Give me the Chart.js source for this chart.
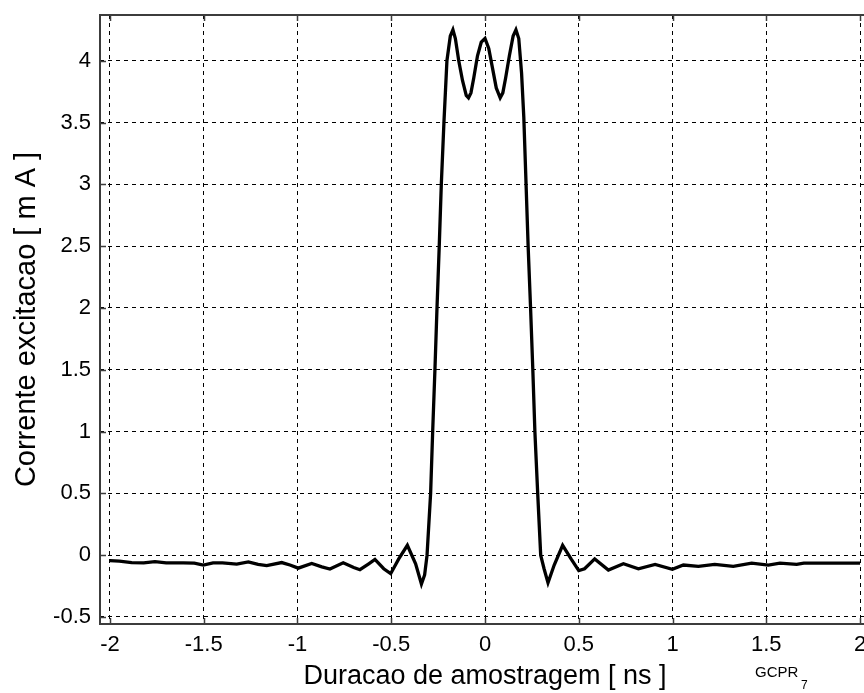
<!DOCTYPE html>
<html>
<head>
<meta charset="utf-8">
<script src="https://cdn.jsdelivr.net/npm/chart.js@4.4.1/dist/chart.umd.min.js"></script>
<style>
  html, body { margin: 0; padding: 0; background: #fff; overflow: hidden; }
  #wrap { width: 870px; height: 693px; }
</style>
</head>
<body>
<div id="wrap"><canvas id="chart" width="870" height="693"></canvas></div>
<script>
// tempo [ns] e corrente [mA]
var tempoNs = [-2.0, -1.95, -1.884, -1.82, -1.76, -1.70, -1.609, -1.55, -1.502, -1.45, -1.40,
  -1.324, -1.262, -1.21, -1.164, -1.084, -1.04, -0.996, -0.924, -0.87, -0.827, -0.756, -0.70,
  -0.667, -0.62, -0.587, -0.54, -0.503, -0.46, -0.414, -0.37, -0.339, -0.322, -0.309, -0.29,
  -0.279, -0.267, -0.256, -0.244, -0.233, -0.219, -0.203, -0.185, -0.171, -0.158, -0.14, -0.12,
  -0.10, -0.088, -0.075, -0.06, -0.04, -0.02, 0.0, 0.02, 0.04, 0.06, 0.081, 0.095, 0.11, 0.13,
  0.15, 0.165, 0.18, 0.195, 0.207, 0.219, 0.230, 0.243, 0.255, 0.266, 0.281, 0.297, 0.315,
  0.336, 0.369, 0.414, 0.459, 0.50, 0.531, 0.585, 0.658, 0.738, 0.818, 0.907, 0.999, 1.058,
  1.138, 1.225, 1.324, 1.422, 1.511, 1.573, 1.662, 1.70, 1.85, 2.0];
var correnteMa = [-0.045, -0.048, -0.06, -0.062, -0.052, -0.062, -0.063, -0.065, -0.08, -0.063, -0.063,
  -0.072, -0.055, -0.075, -0.085, -0.06, -0.08, -0.105, -0.068, -0.095, -0.112, -0.062, -0.10,
  -0.118, -0.07, -0.035, -0.11, -0.15, -0.03, 0.08, -0.07, -0.234, -0.16, 0.0, 0.5,
  1.0, 1.5, 2.0, 2.5, 3.0, 3.5, 4.0, 4.2, 4.25, 4.18, 4.0, 3.84,
  3.72, 3.70, 3.74, 3.86, 4.04, 4.15, 4.18, 4.1, 3.94, 3.78, 3.70, 3.74, 3.86, 4.04,
  4.2, 4.25, 4.18, 3.9, 3.54, 3.0, 2.5, 2.0, 1.5, 1.0, 0.5, 0.0, -0.11,
  -0.224, -0.08, 0.08, -0.03, -0.125, -0.11, -0.03, -0.12, -0.07, -0.11, -0.075, -0.115, -0.08,
  -0.09, -0.075, -0.09, -0.065, -0.08, -0.065, -0.075, -0.065, -0.065, -0.065];

var xMin = -2.053, xMax = 2.053;
var yMin = -0.557, yMax = 4.37;

var pontos = [];
for (var i = 0; i < tempoNs.length; i++) {
  pontos.push({x: tempoNs[i], y: correnteMa[i]});
}

var fonte = "'Liberation Sans', Arial, sans-serif";

// moldura + ticks para dentro (estilo matlab) + nota GCPR7
var moldura = {
  id: 'moldura',
  afterDraw: function(chart) {
    var c = chart.ctx, a = chart.chartArea;
    var sx = chart.scales.x, sy = chart.scales.y;
    c.save();
    c.strokeStyle = '#3c3c3c';
    c.lineWidth = 1.5;
    c.beginPath();
    sx.ticks.forEach(function(t) {
      var px = Math.round(sx.getPixelForValue(t.value)) + 0.5;
      c.moveTo(px, a.bottom); c.lineTo(px, a.bottom - 6);
      c.moveTo(px, a.top); c.lineTo(px, a.top + 6);
    });
    sy.ticks.forEach(function(t) {
      var py = Math.round(sy.getPixelForValue(t.value)) + 0.5;
      c.moveTo(a.left, py); c.lineTo(a.left + 6, py);
    });
    c.stroke();
    c.lineWidth = 2;
    c.beginPath();
    c.moveTo(a.right, a.top); c.lineTo(a.left, a.top);
    c.lineTo(a.left, a.bottom); c.lineTo(a.right, a.bottom);
    c.stroke();
    c.fillStyle = '#000';
    c.textBaseline = 'alphabetic';
    c.font = '15px ' + fonte;
    c.fillText('GCPR', 755, 677);
    c.font = '12px ' + fonte;
    c.fillText('7', 801, 689);
    c.restore();
  }
};

const ctx = document.getElementById('chart').getContext('2d');
const chart = new Chart(ctx, {
  type: 'line',
  data: {
    datasets: [{
      data: pontos,
      borderColor: '#000',
      borderWidth: 3.3,
      pointRadius: 0,
      tension: 0,
      fill: false
    }]
  },
  options: {
    responsive: false,
    animation: false,
    devicePixelRatio: 1,
    layout: { padding: { top: 15, left: 0, right: 0, bottom: 0 } },
    plugins: { legend: { display: false }, tooltip: { enabled: false } },
    scales: {
      x: {
        type: 'linear',
        min: xMin, max: xMax,
        afterFit: function(s) { s.height = 69; s.paddingLeft = 0; s.paddingRight = 0; },
        ticks: { stepSize: 0.5, includeBounds: false, padding: 8, color: '#000',
          font: { family: fonte, size: 22 },
          callback: function(v) { return String(Math.round(v * 10) / 10); } },
        grid: { color: '#000', lineWidth: 1, drawTicks: false },
        border: { display: false, dash: [4, 4] },
        title: { display: true, text: 'Duracao de amostragem [ ns ]', color: '#000',
          font: { family: fonte, size: 27 }, padding: { top: 0, bottom: 0 } }
      },
      y: {
        type: 'linear',
        min: yMin, max: yMax,
        afterFit: function(s) { s.width = 100; s.paddingTop = 0; s.paddingBottom = 0; },
        ticks: { stepSize: 0.5, includeBounds: false, padding: 9, color: '#000',
          font: { family: fonte, size: 22 },
          callback: function(v) { return String(Math.round(v * 10) / 10); } },
        grid: { color: '#000', lineWidth: 1, drawTicks: false },
        border: { display: false, dash: [4, 4] },
        title: { display: true, text: 'Corrente excitacao [ m A ]', color: '#000',
          font: { family: fonte, size: 29 }, padding: { top: 10, bottom: 0 } }
      }
    }
  },
  plugins: [moldura]
});
</script>
</body>
</html>
